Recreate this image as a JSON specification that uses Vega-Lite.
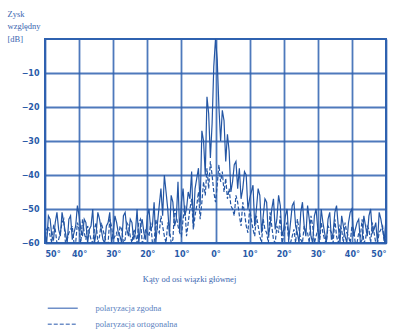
{
  "$schema": "https://vega.github.io/schema/vega-lite/v6.json",
  "width": 341,
  "height": 204,
  "padding": {"left": 45, "top": 39, "right": 18, "bottom": 91},
  "autosize": {"type": "none"},
  "background": "#ffffff",
  "config": {
    "view": {"stroke": "#2f62b0", "strokeWidth": 2},
    "font": "DejaVu Sans",
    "axis": {
      "gridColor": "#2f62b0", "gridWidth": 1.8, "gridOpacity": 0.85,
      "domain": false, "ticks": false,
      "labelColor": "#2a5aa8", "labelFont": "DejaVu Sans", "labelFontSize": 8, "labelFontWeight": "bold",
      "titleColor": "#3a66b0", "titleFont": "Liberation Serif", "titleFontSize": 8.5, "titleFontWeight": "normal"
    }
  },
  "data": {"values": [
    {"a": -50, "z": -57, "o": -58}, {"a": -49, "z": -52, "o": -55}, {"a": -48, "z": -58, "o": -60},
    {"a": -47, "z": -54, "o": -56}, {"a": -46, "z": -56, "o": -59}, {"a": -45, "z": -51, "o": -54},
    {"a": -44, "z": -57, "o": -60}, {"a": -43, "z": -53, "o": -57}, {"a": -42, "z": -59, "o": -55},
    {"a": -41, "z": -55, "o": -60}, {"a": -40, "z": -52, "o": -56}, {"a": -39, "z": -58, "o": -53},
    {"a": -38, "z": -54, "o": -59}, {"a": -37, "z": -56, "o": -57}, {"a": -36, "z": -50, "o": -60},
    {"a": -35, "z": -57, "o": -54}, {"a": -34, "z": -53, "o": -58}, {"a": -33, "z": -59, "o": -56},
    {"a": -32, "z": -55, "o": -60}, {"a": -31, "z": -51, "o": -53}, {"a": -30, "z": -57, "o": -59},
    {"a": -29, "z": -54, "o": -57}, {"a": -28, "z": -58, "o": -55}, {"a": -27, "z": -52, "o": -60},
    {"a": -26, "z": -56, "o": -54}, {"a": -25, "z": -53, "o": -58}, {"a": -24, "z": -59, "o": -56},
    {"a": -23, "z": -50, "o": -60}, {"a": -22, "z": -55, "o": -53}, {"a": -21, "z": -57, "o": -59},
    {"a": -20, "z": -52, "o": -57}, {"a": -19, "z": -56, "o": -54}, {"a": -18, "z": -48, "o": -60},
    {"a": -17, "z": -54, "o": -56}, {"a": -16, "z": -44, "o": -52}, {"a": -15, "z": -40, "o": -58},
    {"a": -14, "z": -50, "o": -54}, {"a": -13, "z": -46, "o": -60}, {"a": -12, "z": -55, "o": -50},
    {"a": -11, "z": -42, "o": -55}, {"a": -10, "z": -48, "o": -58}, {"a": -9, "z": -52, "o": -49},
    {"a": -8, "z": -45, "o": -54}, {"a": -7, "z": -39, "o": -47}, {"a": -6, "z": -44, "o": -52},
    {"a": -5, "z": -38, "o": -45}, {"a": -4, "z": -27, "o": -48}, {"a": -3.5, "z": -30, "o": -42},
    {"a": -3, "z": -40, "o": -46}, {"a": -2.5, "z": -17, "o": -38}, {"a": -2, "z": -22, "o": -44},
    {"a": -1.5, "z": -35, "o": -36}, {"a": -1, "z": -25, "o": -40}, {"a": -0.5, "z": -8, "o": -45},
    {"a": 0, "z": 0, "o": -48}, {"a": 0.5, "z": -6, "o": -43}, {"a": 1, "z": -20, "o": -37},
    {"a": 1.5, "z": -30, "o": -42}, {"a": 2, "z": -21, "o": -39}, {"a": 2.5, "z": -24, "o": -45},
    {"a": 3, "z": -36, "o": -41}, {"a": 3.5, "z": -28, "o": -47}, {"a": 4, "z": -33, "o": -44},
    {"a": 5, "z": -42, "o": -50}, {"a": 6, "z": -36, "o": -46}, {"a": 7, "z": -38, "o": -52},
    {"a": 8, "z": -44, "o": -48}, {"a": 9, "z": -40, "o": -55}, {"a": 10, "z": -47, "o": -50},
    {"a": 11, "z": -43, "o": -56}, {"a": 12, "z": -50, "o": -52}, {"a": 13, "z": -46, "o": -58},
    {"a": 14, "z": -52, "o": -53}, {"a": 15, "z": -48, "o": -57}, {"a": 16, "z": -55, "o": -51},
    {"a": 17, "z": -47, "o": -59}, {"a": 18, "z": -53, "o": -55}, {"a": 19, "z": -49, "o": -52},
    {"a": 20, "z": -56, "o": -58}, {"a": 21, "z": -50, "o": -54}, {"a": 22, "z": -54, "o": -60},
    {"a": 23, "z": -48, "o": -56}, {"a": 24, "z": -57, "o": -53}, {"a": 25, "z": -51, "o": -59},
    {"a": 26, "z": -55, "o": -55}, {"a": 27, "z": -49, "o": -57}, {"a": 28, "z": -58, "o": -52},
    {"a": 29, "z": -52, "o": -60}, {"a": 30, "z": -56, "o": -56}, {"a": 31, "z": -50, "o": -54},
    {"a": 32, "z": -57, "o": -59}, {"a": 33, "z": -53, "o": -55}, {"a": 34, "z": -59, "o": -57},
    {"a": 35, "z": -51, "o": -53}, {"a": 36, "z": -55, "o": -60}, {"a": 37, "z": -52, "o": -56},
    {"a": 38, "z": -58, "o": -54}, {"a": 39, "z": -54, "o": -58}, {"a": 40, "z": -50, "o": -55},
    {"a": 41, "z": -56, "o": -60}, {"a": 42, "z": -53, "o": -57}, {"a": 43, "z": -59, "o": -53},
    {"a": 44, "z": -55, "o": -59}, {"a": 45, "z": -52, "o": -56}, {"a": 46, "z": -57, "o": -54},
    {"a": 47, "z": -54, "o": -60}, {"a": 48, "z": -51, "o": -57}, {"a": 49, "z": -56, "o": -55},
    {"a": 50, "z": -53, "o": -58},
    {"a": -49.5, "z": -60, "o": -56}, {"a": -48.5, "z": -53, "o": -58}, {"a": -47.5, "z": -59, "o": -55},
    {"a": -46.5, "z": -51, "o": -60}, {"a": -45.5, "z": -58, "o": -57}, {"a": -44.5, "z": -54, "o": -53},
    {"a": -43.5, "z": -60, "o": -59}, {"a": -42.5, "z": -52, "o": -56}, {"a": -41.5, "z": -57, "o": -60},
    {"a": -40.5, "z": -49, "o": -54}, {"a": -39.5, "z": -56, "o": -60}, {"a": -38.5, "z": -53, "o": -57},
    {"a": -37.5, "z": -60, "o": -55}, {"a": -36.5, "z": -55, "o": -59}, {"a": -35.5, "z": -60, "o": -56},
    {"a": -34.5, "z": -51, "o": -60}, {"a": -33.5, "z": -56, "o": -54}, {"a": -32.5, "z": -60, "o": -58},
    {"a": -31.5, "z": -54, "o": -60}, {"a": -30.5, "z": -60, "o": -55}, {"a": -29.5, "z": -52, "o": -58},
    {"a": -28.5, "z": -57, "o": -60}, {"a": -27.5, "z": -60, "o": -56}, {"a": -26.5, "z": -51, "o": -59},
    {"a": -25.5, "z": -58, "o": -55}, {"a": -24.5, "z": -54, "o": -60}, {"a": -23.5, "z": -57, "o": -57},
    {"a": -22.5, "z": -60, "o": -54}, {"a": -21.5, "z": -53, "o": -60}, {"a": -20.5, "z": -59, "o": -56},
    {"a": -19.5, "z": -50, "o": -58}, {"a": -18.5, "z": -55, "o": -60}, {"a": -17.5, "z": -60, "o": -53},
    {"a": -16.5, "z": -49, "o": -57}, {"a": -15.5, "z": -52, "o": -55}, {"a": -14.5, "z": -45, "o": -60},
    {"a": -13.5, "z": -58, "o": -56}, {"a": -12.5, "z": -48, "o": -59}, {"a": -11.5, "z": -53, "o": -52},
    {"a": -10.5, "z": -57, "o": -57}, {"a": -9.5, "z": -44, "o": -53}, {"a": -8.5, "z": -50, "o": -58},
    {"a": -7.5, "z": -47, "o": -50}, {"a": -6.5, "z": -55, "o": -56}, {"a": -5.5, "z": -41, "o": -49},
    {"a": -4.5, "z": -49, "o": -53},
    {"a": 4.5, "z": -45, "o": -49}, {"a": 5.5, "z": -37, "o": -52}, {"a": 6.5, "z": -44, "o": -48},
    {"a": 7.5, "z": -47, "o": -55}, {"a": 8.5, "z": -39, "o": -51}, {"a": 9.5, "z": -50, "o": -57},
    {"a": 10.5, "z": -45, "o": -53}, {"a": 11.5, "z": -55, "o": -58}, {"a": 12.5, "z": -44, "o": -55},
    {"a": 13.5, "z": -57, "o": -60}, {"a": 14.5, "z": -47, "o": -56}, {"a": 15.5, "z": -58, "o": -60},
    {"a": 16.5, "z": -50, "o": -55}, {"a": 17.5, "z": -56, "o": -60}, {"a": 18.5, "z": -46, "o": -57},
    {"a": 19.5, "z": -58, "o": -60}, {"a": 20.5, "z": -52, "o": -55}, {"a": 21.5, "z": -59, "o": -60},
    {"a": 22.5, "z": -49, "o": -58}, {"a": 23.5, "z": -55, "o": -60}, {"a": 24.5, "z": -60, "o": -56},
    {"a": 25.5, "z": -48, "o": -60}, {"a": 26.5, "z": -58, "o": -57}, {"a": 27.5, "z": -53, "o": -60},
    {"a": 28.5, "z": -60, "o": -55}, {"a": 29.5, "z": -50, "o": -58}, {"a": 30.5, "z": -59, "o": -60},
    {"a": 31.5, "z": -54, "o": -57}, {"a": 32.5, "z": -60, "o": -60}, {"a": 33.5, "z": -51, "o": -56},
    {"a": 34.5, "z": -57, "o": -60}, {"a": 35.5, "z": -49, "o": -58}, {"a": 36.5, "z": -60, "o": -55},
    {"a": 37.5, "z": -55, "o": -60}, {"a": 38.5, "z": -60, "o": -57}, {"a": 39.5, "z": -51, "o": -60},
    {"a": 40.5, "z": -58, "o": -56}, {"a": 41.5, "z": -54, "o": -60}, {"a": 42.5, "z": -60, "o": -58},
    {"a": 43.5, "z": -52, "o": -60}, {"a": 44.5, "z": -58, "o": -55}, {"a": 45.5, "z": -50, "o": -60},
    {"a": 46.5, "z": -56, "o": -57}, {"a": 47.5, "z": -60, "o": -60}, {"a": 48.5, "z": -53, "o": -56},
    {"a": 49.5, "z": -59, "o": -60}
  ]},
  "transform": [{"fold": ["z", "o"], "as": ["s", "v"]}],
  "mark": {"type": "line", "color": "#2456a4", "strokeWidth": 1.2, "clip": true},
  "encoding": {
    "x": {
      "field": "a", "type": "quantitative",
      "scale": {"domain": [-50, 50], "nice": false, "zero": false},
      "axis": {
        "values": [-50, -40, -30, -20, -10, 0, 10, 20, 30, 40, 50],
        "labelExpr": "abs(datum.value) + '°'",
        "labelPadding": 7,
        "title": "Kąty od osi wiązki głównej",
        "titleX": 144, "titleY": 35, "titleBaseline": "middle"
      }
    },
    "y": {
      "field": "v", "type": "quantitative",
      "scale": {"domain": [-60, 0], "nice": false},
      "axis": {
        "values": [-10, -20, -30, -40, -50, -60],
        "labelPadding": 6,
        "title": ["Zysk", "względny", "[dB]"],
        "titleAngle": 0, "titleAlign": "left", "titleBaseline": "top",
        "titleX": -38, "titleY": -30, "titleLineHeight": 12.5
      }
    },
    "strokeDash": {
      "field": "s", "type": "nominal",
      "scale": {"domain": ["z", "o"], "range": [[1, 0], [4, 2]]},
      "legend": {
        "title": null, "orient": "none", "legendX": 13.5, "legendY": 265,
        "direction": "vertical", "symbolType": "M-6,0H6", "symbolSize": 25,
        "symbolStrokeColor": "#6f8fc8", "symbolStrokeWidth": 1.5,
        "labelExpr": "datum.value == 'z' ? 'polaryzacja zgodna' : 'polaryzacja ortogonalna'",
        "labelFont": "Liberation Serif", "labelFontSize": 8.5, "labelColor": "#5a7fc0",
        "labelOffset": 28.5, "rowPadding": 7
      }
    }
  }
}
